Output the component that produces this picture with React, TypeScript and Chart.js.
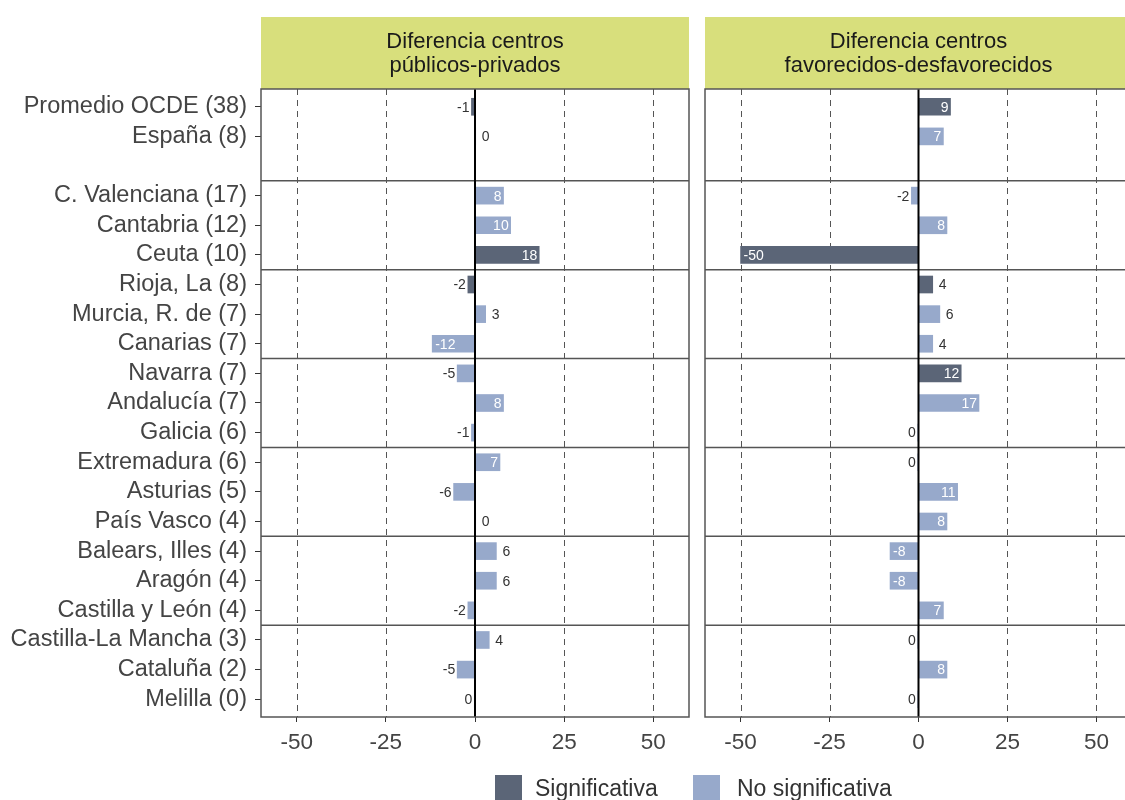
import React, { useEffect, useRef } from 'react';
import { Chart, registerables } from 'chart.js';

Chart.register(...registerables);

const CATEGORIES = [
  'Promedio OCDE (38)', 'España (8)', '', 'C. Valenciana (17)', 'Cantabria (12)', 'Ceuta (10)',
  'Rioja, La (8)', 'Murcia, R. de (7)', 'Canarias (7)', 'Navarra (7)', 'Andalucía (7)', 'Galicia (6)',
  'Extremadura (6)', 'Asturias (5)', 'País Vasco (4)', 'Balears, Illes (4)', 'Aragón (4)',
  'Castilla y León (4)', 'Castilla-La Mancha (3)', 'Cataluña (2)', 'Melilla (0)',
];

// Diferencia centros públicos-privados
const PUBLIC_PRIVATE = [-1, 0.2, null, 8, 10, 18, -2, 3, -12, -5, 8, -1, 7, -6, 0.2, 6, 6, -2, 4, -5, -0.2];
const PUBLIC_PRIVATE_SIG = [true, false, null, false, false, true, true, false, false, false, false, false, false, false, false, false, false, false, false, false, false];

// Diferencia centros favorecidos-desfavorecidos
const ADV_DISADV = [9, 7, null, -2, 8, -50, 4, 6, 4, 12, 17, -0.2, -0.2, 11, 8, -8, -8, 7, -0.2, 8, -0.2];
const ADV_DISADV_SIG = [true, false, null, false, false, true, true, false, false, true, false, false, false, false, false, false, false, false, false, false, false];

const X_TICKS = [-50, -25, 0, 25, 50];
const GROUP_BREAKS = [2.5, 5.5, 8.5, 11.5, 14.5, 17.5];
const PANEL_TITLES = [
  ['Diferencia centros', 'públicos-privados'],
  ['Diferencia centros', 'favorecidos-desfavorecidos'],
];
const LEGEND_LABELS = ['Significativa', 'No significativa'];

const FONT = '"Liberation Sans", Arial, Helvetica, sans-serif';
const DARK = '#5b6577';
const LIGHT = '#97a9cb';
const STRIP = '#d8df7c';
const LINE = '#555555';

const decoPlugin = {
  id: 'panelDeco',
  beforeDatasetsDraw(chart: any) {
    const { ctx, chartArea: a, scales } = chart;
    const x = scales.x, y = scales.y;
    ctx.save();
    // strip
    const title: string[] = chart.options.plugins.panelDeco.title;
    ctx.fillStyle = STRIP;
    ctx.fillRect(a.left, a.top - 72, a.right - a.left, 72);
    ctx.fillStyle = '#1a1a1a';
    ctx.font = `22px ${FONT}`;
    ctx.textAlign = 'center';
    ctx.textBaseline = 'alphabetic';
    const cx = (a.left + a.right) / 2;
    ctx.fillText(title[0], cx, a.top - 41);
    ctx.fillText(title[1], cx, a.top - 17);
    // dashed grid
    ctx.strokeStyle = LINE;
    ctx.lineWidth = 1;
    ctx.setLineDash([6, 5]);
    for (const t of X_TICKS) {
      if (t === 0) continue;
      const px = Math.round(x.getPixelForValue(t)) + 0.5;
      ctx.beginPath();
      ctx.moveTo(px, a.top);
      ctx.lineTo(px, a.bottom);
      ctx.stroke();
    }
    ctx.setLineDash([]);
    // group separators
    ctx.lineWidth = 1.5;
    for (const b of GROUP_BREAKS) {
      const py = y.getPixelForValue(b);
      ctx.beginPath();
      ctx.moveTo(a.left, py);
      ctx.lineTo(a.right, py);
      ctx.stroke();
    }
    ctx.restore();
  },
  afterDatasetsDraw(chart: any) {
    const { ctx, chartArea: a, scales } = chart;
    const x = scales.x;
    const opts = chart.options.plugins.panelDeco;
    const values: (number | null)[] = opts.values;
    const rows: number[] = opts.rows;
    ctx.save();
    // zero line
    const zx = x.getPixelForValue(0);
    ctx.strokeStyle = '#000';
    ctx.lineWidth = 2;
    ctx.beginPath();
    ctx.moveTo(zx, a.top);
    ctx.lineTo(zx, a.bottom);
    ctx.stroke();
    // value labels
    ctx.font = `14px ${FONT}`;
    ctx.textBaseline = 'middle';
    const meta = chart.getDatasetMeta(0);
    meta.data.forEach((el: any, j: number) => {
      const v = values[rows[j]] as number;
      const r = Math.round(v);
      const txt = String(r === 0 ? 0 : r);
      const p = el.getProps(['x', 'y', 'base'], true);
      if (Math.abs(r) >= 7) {
        ctx.fillStyle = '#ffffff';
        if (v >= 0) { ctx.textAlign = 'right'; ctx.fillText(txt, p.x - 2, p.y + 1); }
        else { ctx.textAlign = 'left'; ctx.fillText(txt, p.x + 3, p.y + 1); }
      } else {
        ctx.fillStyle = '#333333';
        if (v >= 0) { ctx.textAlign = 'left'; ctx.fillText(txt, p.x + 6, p.y + 1); }
        else { ctx.textAlign = 'right'; ctx.fillText(txt, p.x - 2, p.y + 1); }
      }
    });
    // panel border
    ctx.strokeStyle = LINE;
    ctx.lineWidth = 1.5;
    ctx.strokeRect(a.left, a.top, a.right - a.left, a.bottom - a.top);
    ctx.restore();
  },
};

function makeChart(canvas: HTMLCanvasElement, values: (number | null)[], sig: (boolean | null)[], title: string[], showY: boolean, padL: number, padR: number) {
  const rows = values.map((v, i) => (v === null ? -1 : i)).filter((i) => i >= 0);
  const data = rows.map((i) => ({ x: values[i] as number, y: i }));
  const colors = rows.map((i) => (sig[i] ? DARK : LIGHT));
  const yRows = CATEGORIES.map((c, i) => (c ? i : -1)).filter((i) => i >= 0);
  return new Chart(canvas, {
    type: 'bar',
    data: {
      datasets: [{ data, backgroundColor: colors, borderWidth: 0, barThickness: 17 } as any],
    },
    plugins: [decoPlugin],
    options: {
      indexAxis: 'y',
      responsive: false,
      animation: false,
      layout: { padding: { left: padL, right: padR, top: 89, bottom: 43 } },
      plugins: {
        legend: { display: false },
        tooltip: { enabled: false },
        panelDeco: { title, values, rows },
      } as any,
      scales: {
        x: {
          type: 'linear',
          min: -60,
          max: 60,
          offset: false,
          afterBuildTicks: (s: any) => { s.ticks = X_TICKS.map((v) => ({ value: v })); },
          afterFit: (s: any) => { s.height = 40; },
          grid: { display: true, offset: false, drawOnChartArea: false, drawTicks: true, tickLength: 5, tickColor: '#333', tickWidth: 1 },
          border: { display: false },
          ticks: { color: '#444', font: { family: FONT, size: 22.5 }, padding: 7, maxRotation: 0, autoSkip: false, callback: (v: any) => String(v) },
        },
        y: {
          type: 'linear',
          reverse: true,
          min: -0.6,
          max: 20.6,
          offset: false,
          display: showY,
          afterBuildTicks: (s: any) => { s.ticks = yRows.map((v) => ({ value: v })); },
          afterFit: (s: any) => { if (showY) s.width = 261; },
          grid: { display: true, offset: false, drawOnChartArea: false, drawTicks: true, tickLength: 6, tickColor: '#333', tickWidth: 1 },
          border: { display: false },
          ticks: { color: '#444', font: { family: FONT, size: 23.5 }, padding: 8, autoSkip: false, callback: (v: any) => CATEGORIES[v] ?? '' },
        },
      } as any,
    },
  } as any);
}

export default function App() {
  const leftRef = useRef<HTMLCanvasElement>(null);
  const rightRef = useRef<HTMLCanvasElement>(null);

  useEffect(() => {
    const c1 = makeChart(leftRef.current!, PUBLIC_PRIVATE, PUBLIC_PRIVATE_SIG, PANEL_TITLES[0], true, 0, 11);
    const c2 = makeChart(rightRef.current!, ADV_DISADV, ADV_DISADV_SIG, PANEL_TITLES[1], false, 5, 13);
    return () => { c1.destroy(); c2.destroy(); };
  }, []);

  const legendText: React.CSSProperties = {
    position: 'absolute', top: 775, fontFamily: FONT, fontSize: 23, lineHeight: '26px', color: '#333', whiteSpace: 'nowrap',
  };

  return (
    <div style={{ position: 'fixed', left: 0, top: 0, width: 1125, height: 800, overflow: 'hidden', background: '#fff' }}>
      <canvas ref={leftRef} width={700} height={800} style={{ position: 'absolute', left: 0, top: 0 }} />
      <canvas ref={rightRef} width={445} height={800} style={{ position: 'absolute', left: 700, top: 0 }} />
      <div style={{ position: 'absolute', left: 495, top: 775, width: 27, height: 27, background: DARK }} />
      <div style={{ ...legendText, left: 535 }}>{LEGEND_LABELS[0]}</div>
      <div style={{ position: 'absolute', left: 693, top: 775, width: 27, height: 27, background: LIGHT }} />
      <div style={{ ...legendText, left: 737 }}>{LEGEND_LABELS[1]}</div>
    </div>
  );
}
